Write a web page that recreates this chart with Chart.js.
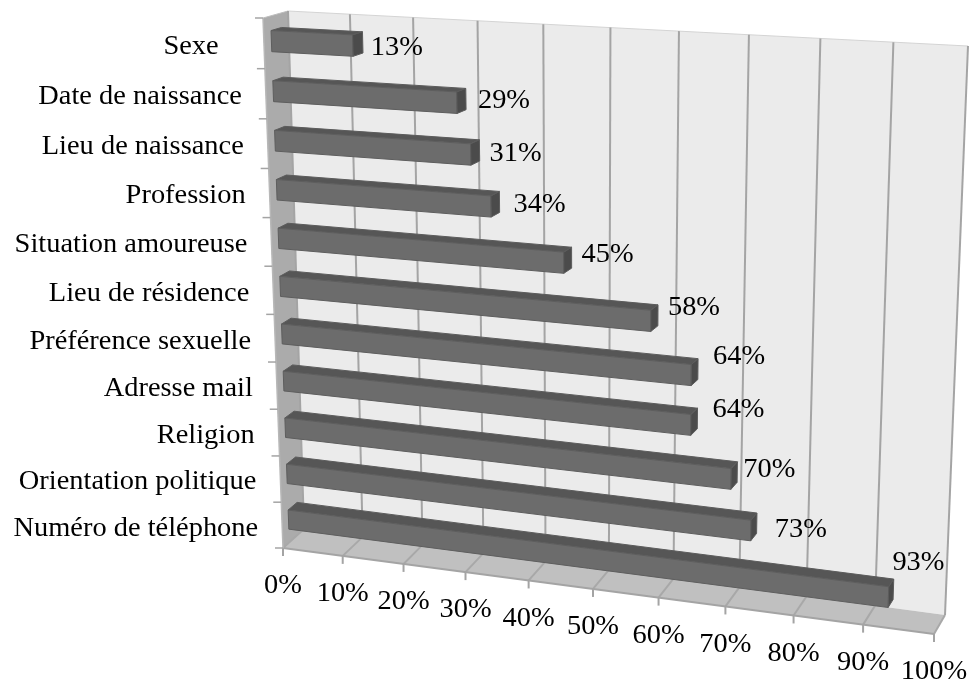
<!DOCTYPE html>
<html>
<head>
<meta charset="utf-8">
<title>Chart</title>
<script src="https://cdn.jsdelivr.net/npm/chart.js@4"></script>
<style>
  body { margin: 0; background: #fff; }
  canvas { display: block; }
</style>
</head>
<body>
<canvas id="chart" width="970" height="686"></canvas>
<script>
// values, top bar first
const categories = ["Sexe   ", "Date de naissance", "Lieu de naissance", "Profession", "Situation amoureuse", "Lieu de résidence", "Préférence sexuelle", "Adresse mail", "Religion", "Orientation politique", "Numéro de téléphone"];
const values = [13, 29, 31, 34, 45, 58, 64, 64, 70, 73, 93];

const FONT = '28px "Liberation Serif"';
const TEXT_STRETCH = 1.015; // the original face runs a bit wider than Liberation

// the box corners on screen: top-left, top-right, bottom-right, bottom-left
const backPlane = homography([[288, 11], [968, 46], [945, 615], [304, 529]]);
const frontPlane = homography([[263, 18], [953, 53], [934, 634], [283, 548]]);

// how far into the box the bars sit (0 = front, 1 = back)
const BAR_FRONT = 0.3;
const BAR_BACK = 0.72;

function homography(q) {
    const [[x0, y0], [x1, y1], [x2, y2], [x3, y3]] = q;
    const dx1 = x1 - x2, dx2 = x3 - x2, dx3 = x0 - x1 + x2 - x3;
    const dy1 = y1 - y2, dy2 = y3 - y2, dy3 = y0 - y1 + y2 - y3;
    const den = dx1 * dy2 - dx2 * dy1;
    const g = (dx3 * dy2 - dx2 * dy3) / den;
    const h = (dx1 * dy3 - dx3 * dy1) / den;
    return (u, v) => {
        const w = g * u + h * v + 1;
        return [
            ((x1 - x0 + g * x1) * u + (x3 - x0 + h * x3) * v + x0) / w,
            ((y1 - y0 + g * y1) * u + (y3 - y0 + h * y3) * v + y0) / w
        ];
    };
}

// u along the value axis, v down the categories, d into the depth
function project(u, v, d) {
    const a = frontPlane(u, v);
    const b = backPlane(u, v);
    return [a[0] + (b[0] - a[0]) * d, a[1] + (b[1] - a[1]) * d];
}

function poly(ctx, pts, fill, stroke, lw) {
    ctx.beginPath();
    pts.forEach((p, i) => i ? ctx.lineTo(p[0], p[1]) : ctx.moveTo(p[0], p[1]));
    ctx.closePath();
    if (fill) { ctx.fillStyle = fill; ctx.fill(); }
    if (stroke) { ctx.strokeStyle = stroke; ctx.lineWidth = lw || 1; ctx.stroke(); }
}

function line(ctx, a, b, color, lw) {
    ctx.beginPath();
    ctx.moveTo(a[0], a[1]);
    ctx.lineTo(b[0], b[1]);
    ctx.strokeStyle = color;
    ctx.lineWidth = lw;
    ctx.stroke();
}

function text(ctx, str, x, y) {
    ctx.save();
    ctx.translate(x, y);
    ctx.scale(TEXT_STRETCH, 1);
    ctx.fillStyle = "#000";
    ctx.fillText(str, 0, 0);
    ctx.restore();
}

// the value labels were moved by hand in the original
const labelShift = [[-2, 4], [2, 1], [0, 2], [4, 2], [0, -4], [0, -9], [5, -13], [5, -10], [-4, -3], [8, 5], [-11, -28]];

const box3d = {
    id: "box3d",
    beforeDatasetsDraw(chart) {
        const ctx = chart.ctx;
        const area = chart.chartArea;
        const xs = chart.scales.x;
        const ys = chart.scales.y;
        const U = px => (px - area.left) / area.width;
        const V = py => (py - area.top) / area.height;

        ctx.save();

        // walls and floor
        poly(ctx, [project(0, 0, 1), project(1, 0, 1), project(1, 1, 1), project(0, 1, 1)], "#ebebeb");
        poly(ctx, [project(0, 1, 0), project(1, 1, 0), project(1, 1, 1), project(0, 1, 1)], "#c0c0c0");
        poly(ctx, [project(0, 0, 0), project(0, 0, 1), project(0, 1, 1), project(0, 1, 0)], "#ababab");

        line(ctx, project(0, 0, 1), project(1, 0, 1), "#d4d4d4", 1);
        line(ctx, project(0, 0, 0), project(0, 0, 1), "#bdbdbd", 1);

        // value grid, floor ticks and labels
        ctx.font = FONT;
        ctx.textAlign = "center";
        ctx.textBaseline = "middle";
        xs.ticks.forEach((tick, i) => {
            const u = U(xs.getPixelForTick(i));
            const floorFront = project(u, 1, 0);
            line(ctx, project(u, 0, 1), project(u, 1, 1), "#a4a4a4", 2);
            line(ctx, project(u, 1, 1), floorFront, "#a8a8a8", 2);
            line(ctx, floorFront, [floorFront[0], floorFront[1] + 8], "#a4a4a4", 2);
            text(ctx, tick.label, floorFront[0], floorFront[1] + 38);
        });
        line(ctx, project(0, 1, 0), project(1, 1, 0), "#a4a4a4", 2);
        line(ctx, project(0, 0, 0), project(0, 1, 0), "#b8b8b8", 1.5);

        // category ticks and labels, on the band edges
        const bands = ys.ticks.length;
        for (let i = 0; i <= bands; i++) {
            const p = project(0, i / bands, 0);
            line(ctx, p, [p[0] - 8, p[1]], "#a4a4a4", 1.5);
        }
        ctx.textAlign = "right";
        ys.ticks.forEach((tick, i) => {
            const p = project(0, V(ys.getPixelForTick(i)), 0);
            text(ctx, tick.label, p[0] - 24, p[1] + 3);
        });

        // bars, from the library's own elements
        const meta = chart.getDatasetMeta(0);
        meta.data.forEach(bar => {
            const { x, y, base, height } = bar.getProps(["x", "y", "base", "height"], true);
            const u0 = U(base), u1 = U(x);
            const v0 = V(y - height / 2), v1 = V(y + height / 2);
            const color = bar.options.backgroundColor;
            poly(ctx, [project(u0, v0, BAR_FRONT), project(u1, v0, BAR_FRONT), project(u1, v0, BAR_BACK), project(u0, v0, BAR_BACK)], "#565656", "#5c5c5c", 1);
            poly(ctx, [project(u0, v0, BAR_FRONT), project(u1, v0, BAR_FRONT), project(u1, v1, BAR_FRONT), project(u0, v1, BAR_FRONT)], color, "#5e5e5e", 1);
            poly(ctx, [project(u1, v0, BAR_FRONT), project(u1, v0, BAR_BACK), project(u1, v1, BAR_BACK), project(u1, v1, BAR_FRONT)], "#4b4b4b", "#5c5c5c", 1);
        });

        // value labels next to the end of each bar
        ctx.textAlign = "left";
        meta.data.forEach((bar, i) => {
            const { x, y } = bar.getProps(["x", "y"], true);
            const p = project(U(x), V(y), BAR_BACK);
            text(ctx, values[i] + "%", p[0] + 10 + labelShift[i][0], p[1] + 1 + labelShift[i][1]);
        });

        ctx.restore();
        return false; // the bars above replace the flat ones
    }
};

new Chart(document.getElementById("chart"), {
    type: "bar",
    data: {
        labels: categories,
        datasets: [{
            label: "Part",
            data: values,
            backgroundColor: "#6c6c6c",
            categoryPercentage: 1,
            barPercentage: 0.42
        }]
    },
    options: {
        indexAxis: "y",
        responsive: false,
        animation: false,
        layout: { padding: 0 },
        plugins: { legend: { display: false }, tooltip: { enabled: false } },
        scales: {
            x: {
                display: false,
                min: 0,
                max: 100,
                ticks: { stepSize: 10, callback: v => v + "%" }
            },
            y: { display: false }
        }
    },
    plugins: [box3d]
});
</script>
</body>
</html>
